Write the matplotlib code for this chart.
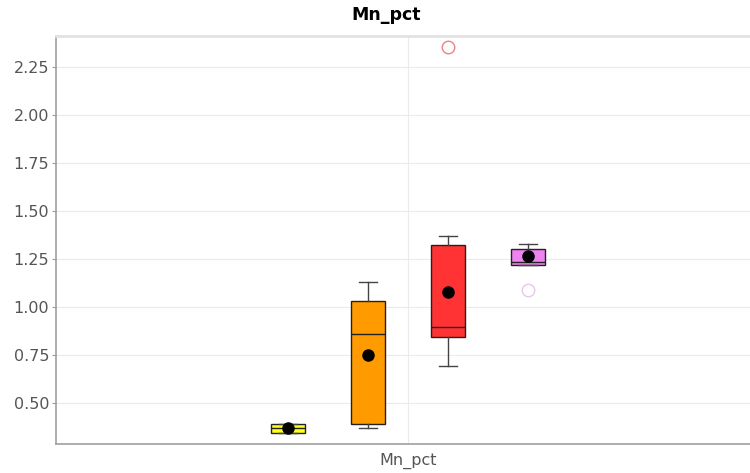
import matplotlib
matplotlib.use("Agg")
import matplotlib.pyplot as plt

plt.rcParams['font.family'] = ['DejaVu Sans']

# Box statistics for the four groups of Mn_pct
category = "Mn_pct"
box_colors = ["#ffff1a", "#ff9a00", "#ff3333", "#ee82ee"]
outlier_colors = ["#f08080", "#f08080", "#f08080", "#e8c8e8"]
whisker_low = [0.345, 0.368, 0.693, 1.219]
q1 = [0.345, 0.39, 0.842, 1.219]
median = [0.37, 0.858, 0.897, 1.236]
q3 = [0.39, 1.033, 1.323, 1.302]
whisker_high = [0.39, 1.129, 1.371, 1.328]
mean = [0.372, 0.748, 1.077, 1.266]
outliers = [[], [], [2.352], [1.089]]

yticks = [0.50, 0.75, 1.00, 1.25, 1.50, 1.75, 2.00, 2.25]

fig = plt.figure(figsize=(7.5, 4.73), dpi=100)
ax = fig.add_axes([56 / 750, 29 / 473, 696 / 750, 408 / 473])

spacing = 0.115
width = 0.05
n = len(median)
positions = [(i - (n - 1) / 2) * spacing for i in range(n)]

stats = []
for i in range(n):
    stats.append(dict(whislo=whisker_low[i], q1=q1[i], med=median[i], q3=q3[i],
                      whishi=whisker_high[i], mean=mean[i], fliers=[]))

bp = ax.bxp(stats, positions=positions, widths=width, patch_artist=True,
            showmeans=True, showfliers=False, manage_ticks=False,
            whiskerprops=dict(color="#444444", linewidth=1.0),
            capprops=dict(color="#444444", linewidth=1.0),
            medianprops=dict(color="#222222", linewidth=1.0),
            meanprops=dict(marker="o", markerfacecolor="black", markeredgecolor="black",
                           markersize=8),
            boxprops=dict(edgecolor="#222222", linewidth=1.0))
for patch, c in zip(bp["boxes"], box_colors):
    patch.set_facecolor(c)
for i in range(n):
    if outliers[i]:
        ax.plot([positions[i]] * len(outliers[i]), outliers[i], linestyle="none",
                marker="o", markersize=9, markerfacecolor="none",
                markeredgecolor=outlier_colors[i], markeredgewidth=1.0, zorder=3)

ax.set_xlim(-0.5057, 0.4943)
ax.set_ylim(0.2865, 2.411)
ax.set_yticks(yticks)
ax.set_yticklabels([f"{v:.2f}" for v in yticks])
ax.set_xticks([0.0])
ax.set_xticklabels([category])
ax.tick_params(axis="y", length=3, width=0.8, color="#999999", labelsize=11.5,
               labelcolor="#555555", pad=2)
ax.tick_params(axis="x", length=0, labelsize=11.5, labelcolor="#555555", pad=6)

ax.grid(True, axis="both", color="#ebebeb", linewidth=0.8, linestyle="-", zorder=0)
ax.set_axisbelow(True)

for side in ["left", "bottom"]:
    ax.spines[side].set_color("#a0a0a0")
    ax.spines[side].set_linewidth(1.2)
ax.spines["top"].set_color("#e2e2e2")
ax.spines["top"].set_linewidth(2.0)
ax.spines["right"].set_visible(False)

fig.text(386 / 750, 1 - 15 / 473, category, ha="center", va="center",
         fontsize=12.5, fontweight="bold", color="black")

fig.savefig("out.png", dpi=100, facecolor="white")
